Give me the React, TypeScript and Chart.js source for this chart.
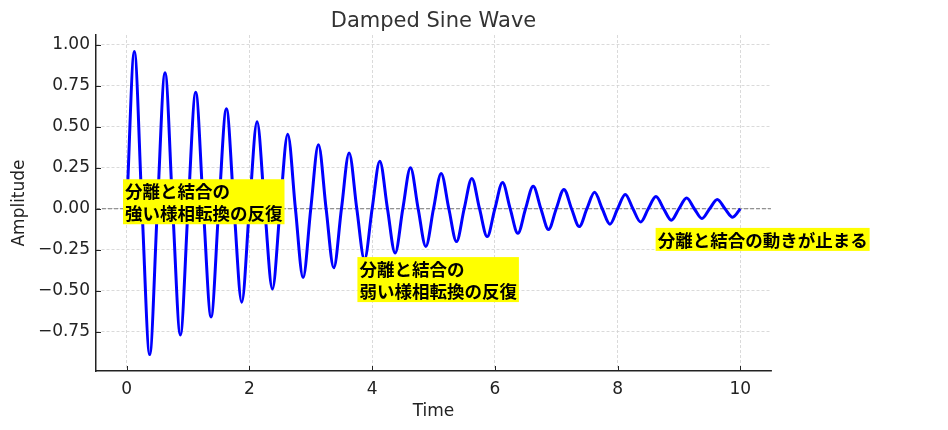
import { useEffect, useRef } from "react";
import { Chart, registerables, type Plugin } from "chart.js";

Chart.register(...registerables);

// Sample times (zero crossings, peaks and troughs)
const timePoints = [
  0, 0.125, 0.25, 0.375, 0.5, 0.625, 0.75, 0.875, 1, 1.125, 1.25, 1.375, 1.5, 1.625, 1.75, 1.875,
  2, 2.125, 2.25, 2.375, 2.5, 2.625, 2.75, 2.875, 3, 3.125, 3.25, 3.375, 3.5, 3.625, 3.75, 3.875,
  4, 4.125, 4.25, 4.375, 4.5, 4.625, 4.75, 4.875, 5, 5.125, 5.25, 5.375, 5.5, 5.625, 5.75, 5.875,
  6, 6.125, 6.25, 6.375, 6.5, 6.625, 6.75, 6.875, 7, 7.125, 7.25, 7.375, 7.5, 7.625, 7.75, 7.875,
  8, 8.125, 8.25, 8.375, 8.5, 8.625, 8.75, 8.875, 9, 9.125, 9.25, 9.375, 9.5, 9.625, 9.75, 9.875,
  10,
];

const amplitude = [
  0, 0.96, 0, -0.89, 0, 0.83, 0, -0.77, 0, 0.71, 0, -0.66, 0, 0.61, 0, -0.57,
  0, 0.53, 0, -0.49, 0, 0.455, 0, -0.42, 0, 0.39, 0, -0.36, 0, 0.34, 0, -0.31,
  0, 0.29, 0, -0.27, 0, 0.25, 0, -0.23, 0, 0.215, 0, -0.2, 0, 0.185, 0, -0.17,
  0, 0.16, 0, -0.15, 0, 0.137, 0, -0.127, 0, 0.118, 0, -0.109, 0, 0.1, 0, -0.094,
  0, 0.087, 0, -0.081, 0, 0.075, 0, -0.07, 0, 0.065, 0, -0.06, 0, 0.056, 0, -0.052,
  0,
];

const xTicks = [0, 2, 4, 6, 8, 10];
const yTicks = [-0.75, -0.5, -0.25, 0, 0.25, 0.5, 0.75, 1];

const chartTitle = "Damped Sine Wave";
const noteTexts = [
  ["分離と結合の", "強い様相転換の反復"],
  ["分離と結合の", "弱い様相転換の反復"],
  ["分離と結合の動きが止まる"],
];
// top-left corner of each note box, in data units
const noteX = [-0.06, 3.76, 8.62];
const noteY = [0.18, -0.295, -0.117];

const LATIN = "'DejaVu Sans', sans-serif";
const CJK = "'Noto Sans CJK JP', sans-serif";

const extrasPlugin: Plugin<"line"> = {
  id: "extras",
  beforeDatasetsDraw(chart) {
    const { ctx, chartArea, scales } = chart;
    // dashed zero line
    const y0 = scales.y.getPixelForValue(0);
    ctx.save();
    ctx.strokeStyle = "#7a7a7a";
    ctx.lineWidth = 1;
    ctx.setLineDash([4, 2]);
    ctx.beginPath();
    ctx.moveTo(chartArea.left, y0);
    ctx.lineTo(chartArea.right, y0);
    ctx.stroke();
    ctx.restore();
  },
  afterDraw(chart) {
    const { ctx, chartArea, scales } = chart;
    ctx.save();
    // title, centred over the axes
    ctx.font = `21px ${LATIN}`;
    ctx.fillStyle = "#333";
    ctx.textAlign = "center";
    ctx.textBaseline = "alphabetic";
    ctx.fillText(chartTitle, (chartArea.left + chartArea.right) / 2, 27);

    // inward tick marks
    ctx.strokeStyle = "#222";
    ctx.lineWidth = 1;
    ctx.beginPath();
    xTicks.forEach((v) => {
      const px = Math.round(scales.x.getPixelForValue(v)) + 0.5;
      ctx.moveTo(px, chartArea.bottom);
      ctx.lineTo(px, chartArea.bottom - 5);
    });
    yTicks.forEach((v) => {
      const py = Math.round(scales.y.getPixelForValue(v)) + 0.5;
      ctx.moveTo(chartArea.left, py);
      ctx.lineTo(chartArea.left + 5, py);
    });
    ctx.stroke();

    // highlighted notes
    ctx.font = `bold 17.5px ${CJK}`;
    ctx.textBaseline = "middle";
    ctx.textAlign = "left";
    const lineH = 22;
    noteTexts.forEach((lines, i) => {
      const left = scales.x.getPixelForValue(noteX[i]);
      const top = scales.y.getPixelForValue(noteY[i]);
      const w = Math.max(...lines.map((l) => ctx.measureText(l).width)) + 4;
      const h = lines.length * lineH + 1;
      ctx.fillStyle = "#ffff00";
      ctx.fillRect(left, top, w, h);
      ctx.fillStyle = "#000";
      lines.forEach((l, j) => {
        ctx.fillText(l, left + 2, top + 1 + lineH / 2 + j * lineH);
      });
    });
    ctx.restore();
  },
};

export default function App() {
  const canvasRef = useRef<HTMLCanvasElement | null>(null);

  useEffect(() => {
    if (!canvasRef.current) return;
    const chart = new Chart(canvasRef.current, {
      type: "line",
      data: {
        datasets: [
          {
            data: timePoints.map((t, i) => ({ x: t, y: amplitude[i] })),
            borderColor: "#0000ff",
            borderWidth: 3,
            pointRadius: 0,
            cubicInterpolationMode: "monotone",
            fill: false,
          },
        ],
      },
      options: {
        animation: false,
        responsive: true,
        maintainAspectRatio: false,
        layout: { padding: { left: 0, right: 177, top: 35, bottom: 0 } },
        plugins: {
          legend: { display: false },
          tooltip: { enabled: false },
          title: { display: false },
        },
        scales: {
          x: {
            type: "linear",
            min: -0.5,
            max: 10.5,
            afterFit: (s) => {
              s.height = 59;
            },
            afterBuildTicks: (s) => {
              s.ticks = xTicks.map((v) => ({ value: v }));
            },
            ticks: {
              color: "#222",
              font: { family: LATIN, size: 17 },
              padding: 8,
              maxRotation: 0,
              callback: (v) => String(v),
            },
            grid: { color: "#d0d0d0", lineWidth: 0.8, drawTicks: false },
            border: { display: true, color: "#222", width: 1.5, dash: [3, 2] },
            title: {
              display: true,
              text: "Time",
              color: "#222",
              font: { family: LATIN, size: 17 },
              padding: { top: 0, bottom: 8 },
            },
          },
          y: {
            min: -0.99,
            max: 1.06,
            afterFit: (s) => {
              s.width = 96;
            },
            afterBuildTicks: (s) => {
              s.ticks = yTicks.map((v) => ({ value: v }));
            },
            ticks: {
              color: "#222",
              font: { family: LATIN, size: 17 },
              padding: 6,
              callback: (v) => Number(v).toFixed(2).replace("-", "\u2212"),
            },
            grid: { color: "#d0d0d0", lineWidth: 0.8, drawTicks: false },
            border: { display: true, color: "#222", width: 1.5, dash: [3, 2] },
            title: {
              display: true,
              text: "Amplitude",
              color: "#222",
              font: { family: LATIN, size: 17 },
              padding: { top: 9, bottom: 0 },
            },
          },
        },
      },
      plugins: [extrasPlugin],
    });
    return () => chart.destroy();
  }, []);

  return (
    <div style={{ position: "fixed", left: 0, top: 0, width: 948, height: 430, background: "#fff" }}>
      <canvas ref={canvasRef} />
    </div>
  );
}
